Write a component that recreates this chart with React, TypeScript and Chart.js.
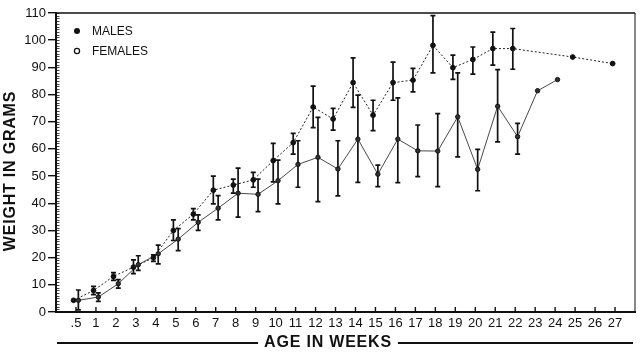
import React, { useEffect, useRef } from "react";
import { Chart, registerables } from "chart.js";

Chart.register(...registerables);

// ---- Data ----
const WEEK_LABELS = [".5", "1", "2", "3", "4", "5", "6", "7", "8", "9", "10", "11", "12", "13", "14", "15", "16", "17", "18", "19", "20", "21", "22", "23", "24", "25", "26", "27"];

const MALE_MEAN = [4.3, 7.9, 13.1, 16.5, 20.0, 30.0, 36.0, 44.8, 46.7, 48.6, 55.7, 62.3, 75.4, 71.0, 84.4, 72.4, 84.4, 85.3, 98.1, 89.9, 92.9, 96.9, 96.9, null, null, 93.8, null, 91.4];
const MALE_LOW = [null, 6.4, 11.6, 14.1, 18.6, 26.3, 33.9, 39.8, 43.7, 45.9, 47.9, 58.1, 67.8, 66.9, 75.3, 66.7, 77.9, 81.0, 88.0, 85.6, 87.5, 90.8, 89.3, null, null, null, null, null];
const MALE_HIGH = [null, 9.4, 14.5, 19.2, 21.0, 33.9, 38.0, 50.0, 48.9, 51.4, 62.0, 65.7, 83.1, 74.9, 93.5, 77.9, 91.9, 89.6, 109.0, 94.5, 97.5, 103.0, 104.3, null, null, null, null, null];

const FEMALE_MEAN = [4.3, 5.5, 10.4, 17.4, 21.4, 26.8, 33.0, 38.2, 43.7, 43.3, 48.3, 54.3, 56.9, 52.6, 63.6, 50.7, 63.6, 59.3, 59.2, 71.8, 52.5, 75.7, 64.5, 81.4, 85.5, null, null, null];
const FEMALE_LOW = [0.8, 3.9, 8.8, 15.3, 17.7, 22.6, 30.0, 33.9, 34.9, 36.9, 39.8, 45.9, 40.6, 42.7, 47.7, 46.1, 47.6, 49.8, 46.1, 57.1, 44.6, 62.6, 58.1, null, null, null, null, null];
const FEMALE_HIGH = [8.1, 7.0, 11.9, 20.7, 24.6, 30.7, 35.7, 42.8, 52.9, 48.9, 55.9, 63.0, 71.6, 63.0, 79.8, 54.0, 78.8, 68.8, 73.0, 88.0, 59.8, 89.2, 69.4, null, null, null, null, null];

const SERIES_NAMES = ["MALES", "FEMALES"];
const Y_TITLE = "WEIGHT IN GRAMS";
const X_TITLE = "AGE IN WEEKS";
const Y_MIN = 0;
const Y_MAX = 110;
const Y_STEP = 10;

const INK = "#111";
const FONT = "'Liberation Sans', Arial, sans-serif";

const toPoints = (vals: (number | null)[], off: number) =>
  vals.map((v, i) => ({ x: i + off, y: v }));

const decorPlugin = {
  id: "decor",
  beforeDatasetsDraw(chart: any) {
    const ctx = chart.ctx;
    const xs = chart.scales.x;
    const ys = chart.scales.y;
    ctx.save();
    ctx.strokeStyle = INK;
    ctx.lineWidth = 1.7;
    chart.data.datasets.forEach((ds: any) => {
      const lo = ds.errLow as (number | null)[];
      const hi = ds.errHigh as (number | null)[];
      if (!lo) return;
      lo.forEach((l, i) => {
        const h = hi[i];
        if (l == null || h == null) return;
        const x = xs.getPixelForValue(i + ds.xOffset);
        const y1 = ys.getPixelForValue(l);
        const y2 = ys.getPixelForValue(h);
        ctx.beginPath();
        ctx.moveTo(x, y1);
        ctx.lineTo(x, y2);
        ctx.moveTo(x - 2.5, y1);
        ctx.lineTo(x + 2.5, y1);
        ctx.moveTo(x - 2.5, y2);
        ctx.lineTo(x + 2.5, y2);
        ctx.stroke();
      });
    });
    ctx.restore();
  },
  afterDraw(chart: any) {
    const ctx = chart.ctx;
    const { left, right, top, bottom } = chart.chartArea;
    const xs = chart.scales.x;
    const ys = chart.scales.y;
    ctx.save();
    ctx.strokeStyle = INK;
    ctx.fillStyle = INK;

    // frame top / right
    ctx.lineWidth = 1.5;
    ctx.beginPath();
    ctx.moveTo(left, top);
    ctx.lineTo(right, top);
    ctx.stroke();
    ctx.lineWidth = 1;
    ctx.beginPath();
    ctx.moveTo(right, top);
    ctx.lineTo(right, bottom);
    ctx.stroke();

    // minor ruler ticks on y axis (inside)
    ctx.lineWidth = 0.8;
    ctx.beginPath();
    for (let v = Y_MIN; v <= Y_MAX; v += 1) {
      const y = Math.round(ys.getPixelForValue(v)) + 0.5;
      ctx.moveTo(left, y);
      ctx.lineTo(left + 3.5, y);
    }
    ctx.stroke();

    // x ticks pointing up
    ctx.lineWidth = 1.4;
    ctx.beginPath();
    WEEK_LABELS.forEach((_, i) => {
      const x = xs.getPixelForValue(i);
      ctx.moveTo(x, bottom);
      ctx.lineTo(x, bottom - 5);
    });
    ctx.stroke();

    // legend
    const lx = left + 21;
    ctx.beginPath();
    ctx.arc(lx, top + 18, 3, 0, Math.PI * 2);
    ctx.fill();
    ctx.beginPath();
    ctx.lineWidth = 1.2;
    ctx.arc(lx, top + 38, 2.6, 0, Math.PI * 2);
    ctx.stroke();
    ctx.font = `12px ${FONT}`;
    ctx.textBaseline = "middle";
    ctx.textAlign = "left";
    ctx.fillText(SERIES_NAMES[0], lx + 15, top + 19);
    ctx.fillText(SERIES_NAMES[1], lx + 15, top + 39);

    // y title
    ctx.font = `bold 16px ${FONT}`;
    (ctx as any).letterSpacing = "0.8px";
    ctx.save();
    ctx.translate(11, 171);
    ctx.rotate(-Math.PI / 2);
    ctx.textAlign = "center";
    ctx.textBaseline = "middle";
    ctx.fillText(Y_TITLE, 0, 0);
    ctx.restore();

    // x title with rules
    const cx = 328;
    const ty = 343;
    ctx.textAlign = "center";
    ctx.textBaseline = "middle";
    ctx.fillText(X_TITLE, cx, ty);
    const w = ctx.measureText(X_TITLE).width;
    ctx.lineWidth = 2;
    ctx.beginPath();
    ctx.moveTo(left + 1, ty);
    ctx.lineTo(cx - w / 2 - 6, ty);
    ctx.moveTo(cx + w / 2 + 6, ty);
    ctx.lineTo(right - 2, ty);
    ctx.stroke();
    ctx.restore();
  },
};

export default function App() {
  const ref = useRef<HTMLCanvasElement | null>(null);

  useEffect(() => {
    document.body.style.margin = "0";
    if (!ref.current) return;
    const chart = new Chart(ref.current, {
      type: "line",
      data: {
        datasets: [
          {
            label: SERIES_NAMES[0],
            data: toPoints(MALE_MEAN, -0.12),
            errLow: MALE_LOW,
            errHigh: MALE_HIGH,
            xOffset: -0.12,
            borderColor: "#222",
            borderWidth: 1,
            borderDash: [2, 2],
            pointRadius: 2.4,
            pointBackgroundColor: INK,
            pointBorderColor: INK,
            pointBorderWidth: 1,
            spanGaps: true,
            tension: 0,
          } as any,
          {
            label: SERIES_NAMES[1],
            data: toPoints(FEMALE_MEAN, 0.12),
            errLow: FEMALE_LOW,
            errHigh: FEMALE_HIGH,
            xOffset: 0.12,
            borderColor: "#333",
            borderWidth: 0.9,
            pointRadius: 2.2,
            pointBackgroundColor: "#333",
            pointBorderColor: INK,
            pointBorderWidth: 1,
            spanGaps: true,
            tension: 0,
          } as any,
        ],
      },
      plugins: [decorPlugin],
      options: {
        animation: false,
        responsive: true,
        maintainAspectRatio: false,
        layout: { padding: { top: 13, right: 3, left: 0, bottom: 0 } },
        plugins: {
          legend: { display: false },
          tooltip: { enabled: false },
          title: { display: false },
        },
        scales: {
          x: {
            type: "linear",
            min: -1,
            max: WEEK_LABELS.length,
            afterBuildTicks: (axis: any) => {
              axis.ticks = WEEK_LABELS.map((_, i) => ({ value: i }));
            },
            afterFit: (scale: any) => {
              scale.height = 44;
            },
            grid: { display: true, drawOnChartArea: false, drawTicks: false },
            border: { display: true, color: INK, width: 2 },
            ticks: {
              autoSkip: false,
              maxRotation: 0,
              padding: 4,
              color: INK,
              font: { family: FONT, size: 13 },
              callback: (v: any) => WEEK_LABELS[Math.round(v)] ?? "",
            },
          },
          y: {
            type: "linear",
            min: Y_MIN,
            max: Y_MAX,
            afterFit: (scale: any) => {
              scale.width = 56;
            },
            grid: {
              drawOnChartArea: false,
              drawTicks: true,
              tickLength: 8,
              color: INK,
              lineWidth: 1.4,
            },
            border: { display: true, color: INK, width: 2 },
            ticks: {
              stepSize: Y_STEP,
              padding: 2,
              color: INK,
              font: { family: FONT, size: 13 },
            },
          },
        },
      } as any,
    });
    return () => chart.destroy();
  }, []);

  return (
    <div style={{ width: 640, height: 356, position: "relative" }}>
      <canvas ref={ref} />
    </div>
  );
}
